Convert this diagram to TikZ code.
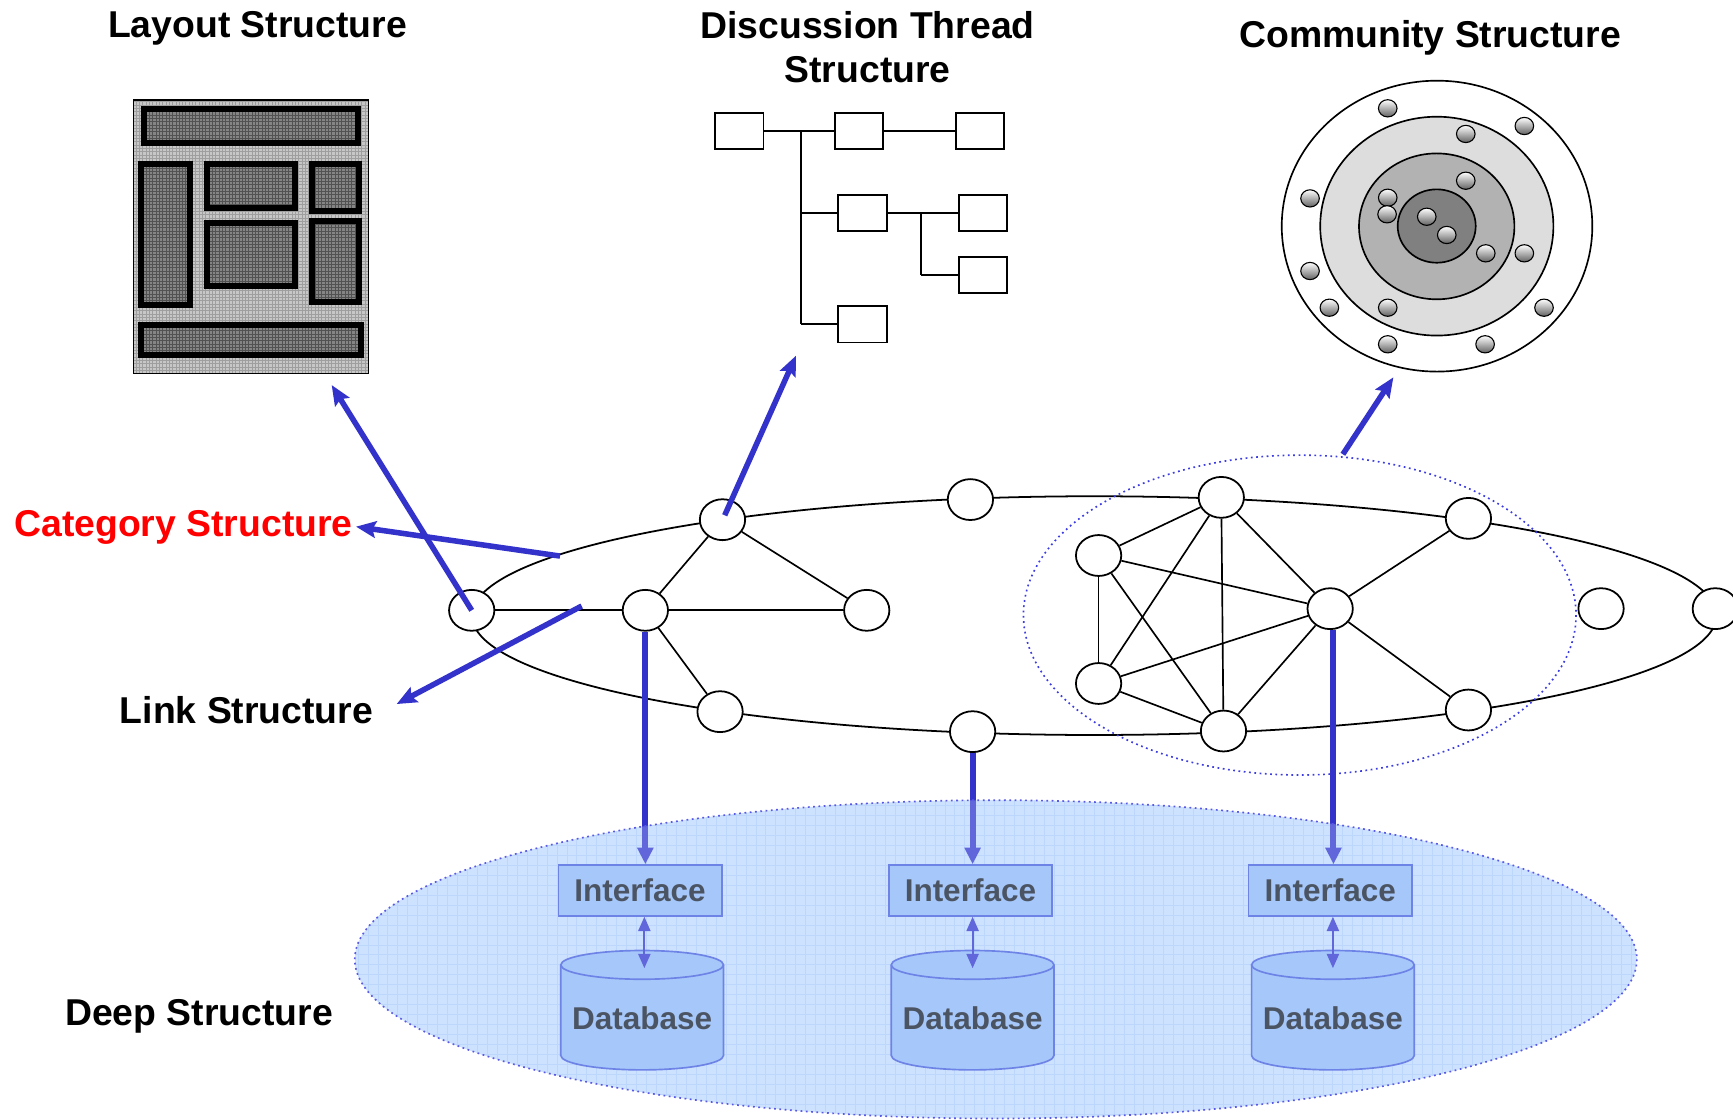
\documentclass[tikz,border=0pt]{standalone}
\usepackage{fontspec}
\setmainfont{Liberation Sans}
\usetikzlibrary{shapes.geometric,arrows.meta,patterns}
\definecolor{abl}{RGB}{51,51,204}
\definecolor{dotbl}{RGB}{60,60,225}
\definecolor{deepfill}{RGB}{205,226,255}
\definecolor{deepgrid}{RGB}{182,210,252}
\definecolor{boxfill}{RGB}{150,188,248}
\definecolor{boxline}{RGB}{70,90,220}
\definecolor{ringA}{RGB}{221,221,221}
\definecolor{ringB}{RGB}{178,178,178}
\definecolor{ringC}{RGB}{128,128,128}
\definecolor{dbtxt}{RGB}{20,24,32}
\tikzset{
 net/.style={ellipse, draw, fill=white, line width=1.6pt, minimum width=41pt, minimum height=37pt, inner sep=0pt},
 edge/.style={line width=1.5pt},
 tbox/.style={draw, line width=1.6pt, minimum width=43.7pt, minimum height=33pt, inner sep=0pt},
 tline/.style={line width=1.6pt},
 barrow/.style={draw=abl, line width=5pt, -{Stealth[length=18pt,width=15pt,inset=3pt]}},
 varrow/.style={draw=abl, line width=5.4pt, -{Triangle[length=15pt,width=14pt]}},
 darrow/.style={draw=abl, line width=1.8pt, {Triangle[length=13pt,width=11pt]}-{Triangle[length=13pt,width=11pt]}},
 ifbox/.style={draw=boxline, fill=boxfill, line width=1.5pt, minimum width=147.8pt, minimum height=46pt, inner sep=0pt, font=\fontsize{28.5}{30}\selectfont\bfseries, text=dbtxt},
 dbtext/.style={inner sep=0pt, font=\fontsize{28.5}{30}\selectfont\bfseries, text=dbtxt},
 cyl/.style={draw=boxline, fill=boxfill, line width=1.5pt},
 title/.style={font=\fontsize{33.8}{38}\selectfont\bfseries, anchor=base, inner sep=0pt},
 ball/.style={draw, line width=1pt, top color=white, bottom color=black!62},
 dotline/.style={draw=dotbl, line width=1.5pt, dash pattern=on 1.6pt off 3.2pt}
}
\begin{document}
\begin{tikzpicture}[x=1pt,y=-1pt]
\useasboundingbox (0,0) rectangle (1568,1013);

% ---------------- Deep structure background ----------------
\begin{scope}
\clip (901,868) ellipse (580 and 144);
\fill[deepfill] (321,724) rectangle (1481,1012);
\draw[deepgrid, line width=0.8pt, step=9pt] (300,700) grid (1500,1020);
\end{scope}

% interfaces
\node[ifbox] (if1) at (579.1,805.7) {Interface};
\node[ifbox] (if2) at (878,805.7) {Interface};
\node[ifbox] (if3) at (1203.5,805.7) {Interface};

% databases (cylinders)
\foreach \cx in {581,880,1206}{
  \path[cyl, draw=none] (\cx-73.6,873) rectangle (\cx+73.6,955);
  \path[cyl, draw=none] (\cx,955) ellipse (73.6 and 13);
  \draw[cyl, fill=none] (\cx-73.6,873) -- (\cx-73.6,955) arc[start angle=180, end angle=0, x radius=73.6, y radius=13] -- (\cx+73.6,873);
  \draw[cyl] (\cx,873) ellipse (73.6 and 13);
}
\node[dbtext] (db1) at (581,921) {Database};
\node[dbtext] (db2) at (880,921) {Database};
\node[dbtext] (db3) at (1206,921) {Database};
\coordinate (dbt1) at (583,876);
\coordinate (dbt2) at (880,876);
\coordinate (dbt3) at (1206,876);
\draw[darrow] (dbt1 |- if1.south) -- (dbt1);
\draw[darrow] (dbt2 |- if2.south) -- (dbt2);
\draw[darrow] (dbt3 |- if3.south) -- (dbt3);

% ---------------- Network ----------------
\draw[line width=1.6pt] (990,557) ellipse (563 and 108);
\draw[dotline] (1176,556.5) ellipse (250 and 144.7);

\node[net] (A) at (426.8,552.2) {};
\node[net] (B) at (583.9,552.2) {};
\node[net] (C) at (653.7,470.2) {};
\node[net] (D) at (784.2,552.2) {};
\node[net] (E) at (651.5,643.9) {};
\node[net] (F) at (878,452) {};
\node[net] (G) at (880,662) {};
\node[net] (H) at (1105,450) {};
\node[net] (I) at (994,502.6) {};
\node[net] (J) at (994,618.4) {};
\node[net] (K) at (1107,661.4) {};
\node[net] (L) at (1203.5,550.7) {};
\node[net] (M) at (1328.6,469) {};
\node[net] (N) at (1328.6,642.4) {};
\node[net] (O) at (1448.6,550.7) {};
\node[net] (P) at (1552,550.7) {};

\draw[edge] (A) -- (B);
\draw[edge] (B) -- (C);
\draw[edge] (C) -- (D);
\draw[edge] (B) -- (D);
\draw[edge] (B) -- (E);
\draw[edge] (H) -- (I);
\draw[edge] (H) -- (J);
\draw[edge] (H) -- (K);
\draw[edge] (H) -- (L);
\draw[edge] (I) -- (J);
\draw[edge] (I) -- (K);
\draw[edge] (I) -- (L);
\draw[edge] (J) -- (L);
\draw[edge] (J) -- (K);
\draw[edge] (K) -- (L);
\draw[edge] (L) -- (M);
\draw[edge] (L) -- (N);

% vertical arrows to interfaces
\draw[varrow] (B.south) -- (B.south |- if1.north);
\draw[varrow] (G.south) -- (G.south |- if2.north);
\draw[varrow] ([xshift=3pt]L.south) -- ([xshift=3pt]L.south |- if3.north);

% overlay of deep ellipse
\fill[deepfill, fill opacity=0.3] (901,868) ellipse (580 and 144);
\draw[dotline, draw=dotbl!85] (901,868) ellipse (580 and 144);

% ---------------- Titles ----------------
\node[title] (lay) at (233,33.8) {Layout Structure};
\node[title] (disc1) at (785,34.8) {Discussion Thread};
\node[title] (disc2) at (785,74.8) {Structure};
\node[title] (comm) at (1294,42.8) {Community Structure};
\node[title, text=red] (cat) at (166,485.8) {Category Structure};
\node[title] (link) at (223,654.8) {Link Structure};
\node[title] (deep) at (180,927.8) {Deep Structure};

% ---------------- Layout picture ----------------
\fill[black!22] (120.6,90.5) rectangle (333.3,337.8);
\fill[pattern=grid, pattern color=black!38] (120.6,90.5) rectangle (333.3,337.8);
\draw[line width=1pt] (120.6,90.5) rectangle (333.3,337.8);
\foreach \ax/\ay/\bx/\by in {130/98.6/323.7/129.1, 127.9/148.1/172.2/276.3, 187.3/148.1/267.2/187.9, 187.3/201.7/267.2/259.1, 282.3/148.1/325.1/191.2, 282.3/200.2/325.1/273.3, 127.9/293.7/326.9/320.9}{
  \fill[black!48] (\ax,\ay) rectangle (\bx,\by);
  \fill[pattern=grid, pattern color=black!68] (\ax,\ay) rectangle (\bx,\by);
  \draw[line width=5.4pt] (\ax,\ay) rectangle (\bx,\by);
}

% ---------------- Discussion thread ----------------
\node[tbox] (b1) at (668.9,118.6) {};
\node[tbox] (b2) at (777.4,118.6) {};
\node[tbox] (b3) at (886.6,118.6) {};
\node[tbox] (b4) at (780.4,192.7) {};
\node[tbox] (b5) at (889.6,192.7) {};
\node[tbox] (b6) at (889.6,248.9) {};
\node[tbox] (b7) at (780.4,293.3) {};
\coordinate (tr1) at (724.8,118.6);
\coordinate (tr2) at (724.8,192.7);
\coordinate (tr3) at (724.8,293.3);
\coordinate (st1) at (833.4,192.7);
\coordinate (st2) at (833.4,248.9);
\draw[tline] (b1) -- (b2);
\draw[tline] (b2) -- (b3);
\draw[tline] (tr1) -- (tr3);
\draw[tline] (tr2) -- (b4);
\draw[tline] (tr3) -- (b7);
\draw[tline] (b4) -- (b5);
\draw[tline] (st1) -- (st2);
\draw[tline] (st2) -- (b6);

% ---------------- Community structure ----------------
\draw[line width=1.5pt, fill=white] (1300.2,204.6) ellipse (140.5 and 131.6);
\draw[line width=1.5pt, fill=ringA] (1300,204.6) ellipse (105.5 and 99);
\draw[line width=1.5pt, fill=ringB] (1299.9,204.8) ellipse (70.3 and 66);
\draw[line width=1.5pt, fill=ringC] (1299.9,204.5) ellipse (35.3 and 33.2);
\foreach \px/\py in {1255.6/98, 1379.2/114, 1326.2/121.2, 1326.2/163.5, 1185.3/179.5, 1255.6/178.9, 1255/193.9, 1290.9/196.1, 1309/212.6, 1344.3/229.2, 1379.2/229.2, 1185.3/245.2, 1202.8/278.4, 1255.6/278.4, 1397/278.4, 1255.6/311.5, 1343.7/311.5}{
  \draw[ball] (\px,\py) ellipse (8.4 and 7.8);
}

% ---------------- Blue arrows ----------------
\coordinate (layH) at (300.1,348.4);
\coordinate (discH) at (720.2,321.8);
\coordinate (comT) at (1215,411);
\coordinate (comH) at (1260.7,341.4);
\coordinate (catT) at (506.7,503.1);
\coordinate (catH) at (322.1,476.5);
\coordinate (linkT) at (526.3,548.3);
\coordinate (linkH) at (358.9,637);
\draw[barrow] (A.center) -- (layH);
\draw[barrow] ([shift={(2,-4)}]C.center) -- (discH);
\draw[barrow] (comT) -- (comH);
\draw[barrow] (catT) -- (catH);
\draw[barrow] (linkT) -- (linkH);

\end{tikzpicture}
\end{document}
